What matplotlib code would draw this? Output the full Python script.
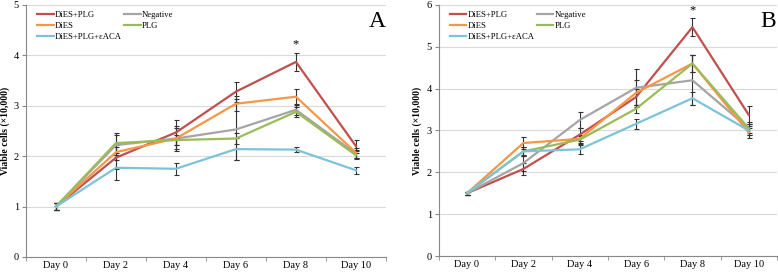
import matplotlib
matplotlib.use("Agg")
import matplotlib.pyplot as plt
import numpy as np

plt.rcParams["font.family"] = ["Liberation Serif", "DejaVu Serif"]

# ── DATA ───────────────────────────────────────────────────────
days = ["Day 0", "Day 2", "Day 4", "Day 6", "Day 8", "Day 10"]

labels = ["DiES+PLG", "Negative", "DiES", "PLG", "DiES+PLG+εACA"]
colors = ["#C0504D", "#A5A5A5", "#F79646", "#9BBB59", "#7CC3DA"]

# panel A
a_red    = [1.00, 1.97, 2.47, 3.28, 3.87, 2.20]
a_gray   = [1.00, 2.22, 2.35, 2.53, 2.92, 2.05]
a_orange = [1.00, 2.08, 2.35, 3.04, 3.18, 2.07]
a_green  = [1.00, 2.26, 2.32, 2.35, 2.88, 2.02]
a_cyan   = [1.00, 1.77, 1.75, 2.14, 2.13, 1.72]

a_red_err    = [0.07, 0.22, 0.25, 0.20, 0.18, 0.13]
a_gray_err   = [0.07, 0.20, 0.20, 0.60, 0.10, 0.08]
a_orange_err = [0.07, 0.15, 0.25, 0.15, 0.15, 0.10]
a_green_err  = [0.07, 0.20, 0.10, 0.10, 0.10, 0.08]
a_cyan_err   = [0.07, 0.25, 0.12, 0.22, 0.05, 0.07]

# panel B
b_red    = [1.50, 2.08, 2.90, 3.80, 5.47, 3.37]
b_gray   = [1.50, 2.22, 3.25, 4.02, 4.20, 3.05]
b_orange = [1.50, 2.70, 2.80, 3.90, 4.60, 2.95]
b_green  = [1.50, 2.50, 2.78, 3.52, 4.60, 3.05]
b_cyan   = [1.50, 2.50, 2.55, 3.16, 3.77, 3.00]

b_red_err    = [0.04, 0.15, 0.15, 0.20, 0.22, 0.22]
b_gray_err   = [0.04, 0.20, 0.20, 0.45, 0.60, 0.15]
b_orange_err = [0.04, 0.15, 0.10, 0.30, 0.20, 0.12]
b_green_err  = [0.04, 0.10, 0.10, 0.10, 0.20, 0.10]
b_cyan_err   = [0.04, 0.10, 0.10, 0.12, 0.15, 0.10]

# ── PLOT ───────────────────────────────────────────────────────
fig = plt.figure(figsize=(7.78, 2.75), dpi=100)
ax_a = fig.add_axes([0.0334, 0.0655, 0.4626, 0.9165])
ax_b = fig.add_axes([0.564, 0.069, 0.4347, 0.913])

panels = [
    (ax_a, [a_red, a_gray, a_orange, a_green, a_cyan],
     [a_red_err, a_gray_err, a_orange_err, a_green_err, a_cyan_err], 5, "A"),
    (ax_b, [b_red, b_gray, b_orange, b_green, b_cyan],
     [b_red_err, b_gray_err, b_orange_err, b_green_err, b_cyan_err], 6, "B"),
]

x = np.arange(len(days))

for ax, series, errs, ymax, letter in panels:
    handles = []
    for vals, err, col, lab in zip(series, errs, colors, labels):
        ax.errorbar(x, vals, yerr=err, fmt="none", ecolor="#333333",
                    elinewidth=0.8, capsize=1.8, capthick=0.8, zorder=2)
        h, = ax.plot(x, vals, color=col, linewidth=1.6, label=lab, zorder=3)
        handles.append(h)

    # star above the DiES+PLG peak
    top = series[0][4] + errs[0][4]
    ax.text(4, top + 0.05, "*", ha="center", va="bottom", fontsize=9)

    ax.set_xlim(-0.5, len(days) - 0.5)
    ax.set_ylim(0, ymax)
    ax.set_yticks(range(ymax + 1))
    ax.set_xticks(x)
    ax.set_xticklabels(days, fontsize=7.5)
    ax.set_xticks(np.arange(-0.5, len(days)), minor=True)
    ax.tick_params(axis="x", which="major", length=0, pad=3)
    ax.tick_params(axis="x", which="minor", length=3, color="#888888")
    ax.tick_params(axis="y", length=3, color="#888888", labelsize=7.5,
                   pad=2)
    ax.yaxis.grid(True, color="#D9D9D9", linewidth=0.8)
    ax.set_axisbelow(True)
    for s in ["top", "right"]:
        ax.spines[s].set_visible(False)
    for s in ["left", "bottom"]:
        ax.spines[s].set_color("#888888")
        ax.spines[s].set_linewidth(0.8)

    ax.set_ylabel("Viable cells (×10,000)", fontsize=7, fontweight="bold",
                  labelpad=3)

    order = [0, 2, 4, 1, 3]
    ax.legend([handles[i] for i in order], [labels[i] for i in order],
              ncol=2, loc="upper left", bbox_to_anchor=(0.015, 1.0),
              frameon=False, fontsize=6.2, handlelength=1.9,
              handletextpad=0.15, columnspacing=0.25, labelspacing=0.35,
              borderaxespad=0.3)

    ax.text(0.975, 0.935, letter, transform=ax.transAxes, ha="center",
            va="center", fontsize=17)

fig.savefig("out.png", dpi=100, facecolor="white")
